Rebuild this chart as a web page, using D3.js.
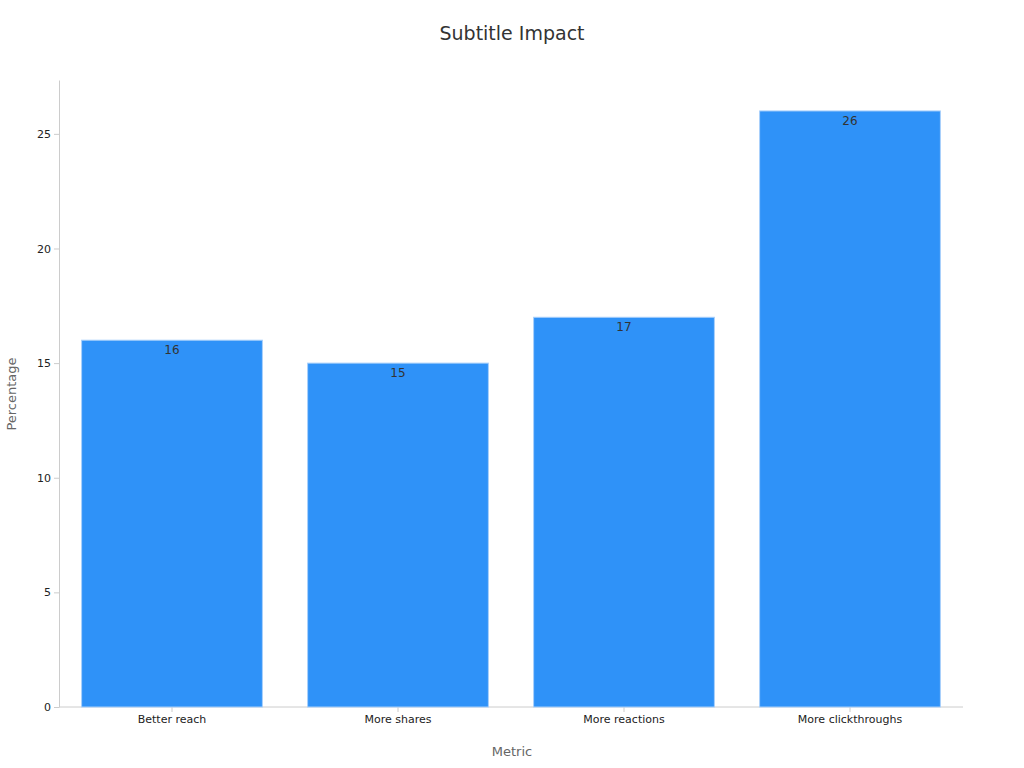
<!DOCTYPE html>
<html><head><meta charset="utf-8">
<script src="https://cdn.jsdelivr.net/npm/d3@7"></script>
<style>body{margin:0;background:#fff}text{font-family:"DejaVu Sans",sans-serif}</style>
</head><body><svg id="c" width="1024" height="768"></svg>
<script>
const categories=["Better reach","More shares","More reactions","More clickthroughs"];
const values=[16,15,17,26];
const yTicks=[0,5,10,15,20,25];
const svg=d3.select("#c");
const m={l:59,r:963,t:80,b:707};
const x=d3.scaleBand().domain(categories).range([m.l,m.r]).paddingInner(0.2).paddingOuter(0.1);
const y=d3.scaleLinear().domain([0,27.35]).range([m.b,m.t]);
svg.append("text").attr("x",512).attr("y",40).attr("text-anchor","middle").attr("font-size",19).attr("fill","#333").text("Subtitle Impact");
const ya=svg.append("g").attr("transform",`translate(${m.l},0)`).call(d3.axisLeft(y).tickValues(yTicks).tickSize(5).tickSizeOuter(0));
const xa=svg.append("g").attr("transform",`translate(0,${m.b})`).call(d3.axisBottom(x).tickSize(5).tickSizeOuter(0));
[ya,xa].forEach(a=>{a.selectAll("path,line").attr("stroke","#ccc");a.selectAll("text").attr("font-size",11).attr("fill","#222").style("font-family","DejaVu Sans");});
xa.select(".domain").attr("d",`M${m.l},0H${m.r}`);
svg.selectAll("rect.bar").data(values).join("rect").attr("class","bar")
 .attr("x",(d,i)=>x(categories[i])).attr("width",x.bandwidth())
 .attr("y",d=>y(d)).attr("height",d=>m.b-y(d))
 .attr("fill","#2f92f8").attr("stroke","#a9d0fb").attr("stroke-width",1);
svg.selectAll("text.lab").data(values).join("text").attr("class","lab")
 .attr("x",(d,i)=>x(categories[i])+x.bandwidth()/2).attr("y",d=>y(d)+14)
 .attr("text-anchor","middle").attr("font-size",12).attr("fill","#333").text(d=>d);
svg.append("text").attr("x",512).attr("y",756).attr("text-anchor","middle").attr("font-size",13).attr("fill","#666").text("Metric");
svg.append("text").attr("transform","translate(16,394) rotate(-90)").attr("text-anchor","middle").attr("font-size",13).attr("fill","#666").text("Percentage");
</script></body></html>
